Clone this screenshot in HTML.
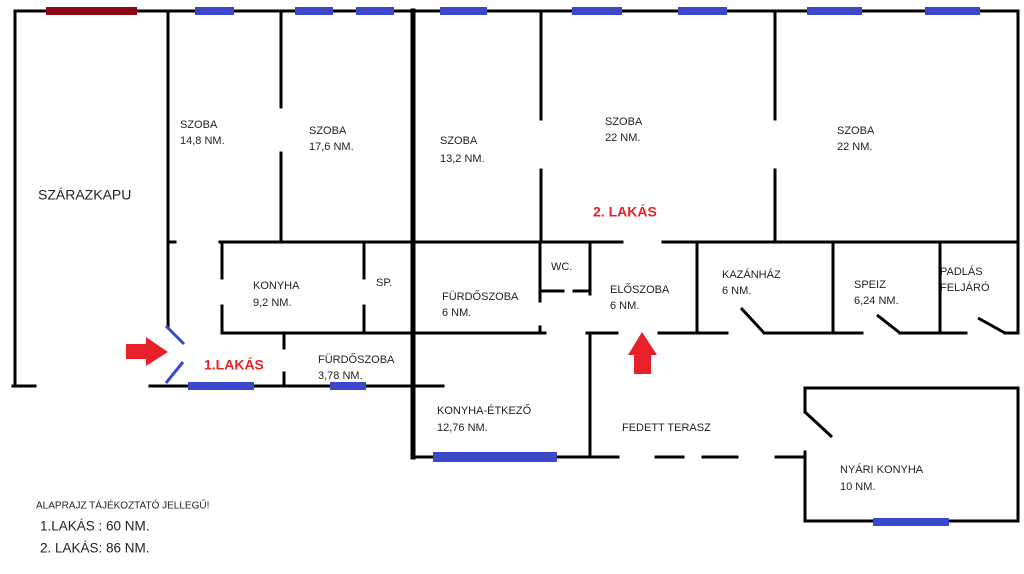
<!DOCTYPE html>
<html><head><meta charset="utf-8"><style>
html,body{margin:0;padding:0;background:#fff;width:1024px;height:574px;overflow:hidden}
svg{display:block}
text{font-family:"Liberation Sans",sans-serif;font-size:11px;fill:#222;dominant-baseline:middle}
.r{fill:#e8202a;font-size:14px;font-weight:bold}
</style></head><body>
<svg width="1024" height="574" viewBox="0 0 1024 574">
<g stroke="#000" stroke-width="3" fill="none" stroke-linecap="square">
<!-- top wall -->
<line x1="15" y1="11" x2="1018" y2="11"/>
<line x1="15" y1="11" x2="15" y2="386"/>
<line x1="13" y1="386" x2="35" y2="386"/>
<line x1="1018" y1="11" x2="1018" y2="333"/>
<!-- room dividers top -->
<line x1="168" y1="11" x2="168" y2="326"/>
<line x1="168" y1="242" x2="175" y2="242"/>
<line x1="281" y1="11" x2="281" y2="107"/>
<line x1="281" y1="153" x2="281" y2="242"/>
<line x1="541" y1="11" x2="541" y2="119"/>
<line x1="541" y1="170" x2="541" y2="242"/>
<line x1="775" y1="11" x2="775" y2="119"/>
<line x1="775" y1="170" x2="775" y2="242"/>
<!-- mid wall -->
<line x1="220" y1="242" x2="622" y2="242"/>
<line x1="663" y1="242" x2="1018" y2="242"/>
<!-- konyha 1 -->
<line x1="222" y1="242" x2="222" y2="278"/>
<line x1="222" y1="306" x2="222" y2="333"/>
<line x1="222" y1="333" x2="413" y2="333"/>
<line x1="364" y1="242" x2="364" y2="278"/>
<line x1="364" y1="306" x2="364" y2="333"/>
<line x1="284" y1="333" x2="284" y2="348"/>
<line x1="284" y1="373" x2="284" y2="386"/>
<line x1="150" y1="386" x2="443" y2="386"/>
<!-- 2 lakás lower -->
<line x1="413" y1="333" x2="545" y2="333"/>
<line x1="540" y1="242" x2="540" y2="301"/>
<line x1="540" y1="327" x2="540" y2="333"/>
<line x1="540" y1="291" x2="563" y2="291"/>
<line x1="574" y1="291" x2="590" y2="291"/>
<line x1="590" y1="242" x2="590" y2="294"/>
<line x1="590" y1="333" x2="590" y2="457"/>
<line x1="587" y1="333" x2="617" y2="333"/>
<line x1="659" y1="333" x2="727" y2="333"/>
<line x1="697" y1="242" x2="697" y2="333"/>
<line x1="765" y1="333" x2="862" y2="333"/>
<line x1="833" y1="242" x2="833" y2="333"/>
<line x1="900" y1="333" x2="966" y2="333"/>
<line x1="940" y1="242" x2="940" y2="333"/>
<line x1="1005" y1="333" x2="1018" y2="333"/>
<line x1="741" y1="308" x2="765" y2="334" stroke-linecap="butt"/>
<line x1="877" y1="315" x2="900" y2="333" stroke-linecap="butt"/>
<line x1="978" y1="318" x2="1005" y2="333" stroke-linecap="butt"/>
<!-- bottom terrace -->
<line x1="413" y1="457" x2="618" y2="457"/>
<line x1="656" y1="457" x2="683" y2="457"/>
<line x1="703" y1="457" x2="737" y2="457"/>
<line x1="776" y1="457" x2="805" y2="457"/>
<!-- nyári konyha -->
<line x1="805" y1="388" x2="1018" y2="388"/>
<line x1="1018" y1="388" x2="1018" y2="521"/>
<line x1="805" y1="388" x2="805" y2="412"/>
<line x1="805" y1="412" x2="832" y2="437" stroke-linecap="butt"/>
<line x1="805" y1="452" x2="805" y2="521"/>
<line x1="805" y1="521" x2="1018" y2="521"/>
<!-- thick -->
<line x1="413" y1="11" x2="413" y2="457" stroke-width="5"/>
</g>
<!-- entry door leaves -->
<g stroke="#3a47c8" stroke-width="3">
<line x1="166" y1="326" x2="184" y2="344"/>
<line x1="183" y1="362" x2="166" y2="383"/>
</g>
<!-- windows -->
<g fill="#3a47c8">
<rect x="46" y="7" width="91" height="8" fill="#8b0a14"/>
<rect x="195" y="7" width="39" height="8"/>
<rect x="295" y="7" width="38" height="8"/>
<rect x="356" y="7" width="38" height="8"/>
<rect x="440" y="7" width="47" height="8"/>
<rect x="572" y="7" width="50" height="8"/>
<rect x="678" y="7" width="49" height="8"/>
<rect x="807" y="7" width="55" height="8"/>
<rect x="925" y="7" width="55" height="8"/>
<rect x="188" y="382" width="66" height="8"/>
<rect x="330" y="382" width="36" height="8"/>
<rect x="433" y="452" width="124" height="10"/>
<rect x="873" y="518" width="76" height="8"/>
</g>
<!-- arrows -->
<polygon fill="#e8202a" points="126,344 146,344 146,337 168,352 146,366 146,359 126,359"/>
<polygon fill="#e8202a" points="642,332 657,355 651,355 651,374 634,374 634,355 628,355"/>
<text x="38" y="196" style="font-size:14px">SZÁRAZKAPU</text>
<text x="180" y="125">SZOBA</text><text x="180" y="141">14,8 NM.</text>
<text x="309" y="131">SZOBA</text><text x="309" y="147">17,6 NM.</text>
<text x="440" y="141">SZOBA</text><text x="440" y="159">13,2 NM.</text>
<text x="605" y="122">SZOBA</text><text x="605" y="138">22 NM.</text>
<text x="837" y="131">SZOBA</text><text x="837" y="147">22 NM.</text>
<text x="593" y="213" class="r">2. LAKÁS</text>
<text x="253" y="286">KONYHA</text><text x="253" y="303">9,2 NM.</text>
<text x="376" y="283">SP.</text>
<text x="442" y="297">FÜRDŐSZOBA</text><text x="442" y="313">6 NM.</text>
<text x="551" y="267">WC.</text>
<text x="610" y="290">ELŐSZOBA</text><text x="610" y="306">6 NM.</text>
<text x="722" y="275">KAZÁNHÁZ</text><text x="722" y="291">6 NM.</text>
<text x="854" y="285">SPEIZ</text><text x="854" y="301">6,24 NM.</text>
<text x="940" y="272">PADLÁS</text><text x="940" y="288">FELJÁRÓ</text>
<text x="204" y="366" class="r">1.LAKÁS</text>
<text x="318" y="360">FÜRDŐSZOBA</text><text x="318" y="376">3,78 NM.</text>
<text x="437" y="411">KONYHA-ÉTKEZŐ</text><text x="437" y="428">12,76 NM.</text>
<text x="622" y="428">FEDETT TERASZ</text>
<text x="840" y="470">NYÁRI KONYHA</text><text x="840" y="487">10 NM.</text>
<text x="36" y="506" style="font-size:10px">ALAPRAJZ TÁJÉKOZTATÓ JELLEGŰ!</text>
<text x="40" y="527" style="font-size:13.5px">1.LAKÁS : 60 NM.</text>
<text x="40" y="549" style="font-size:13.5px">2. LAKÁS: 86 NM.</text>
</svg>
</body></html>
